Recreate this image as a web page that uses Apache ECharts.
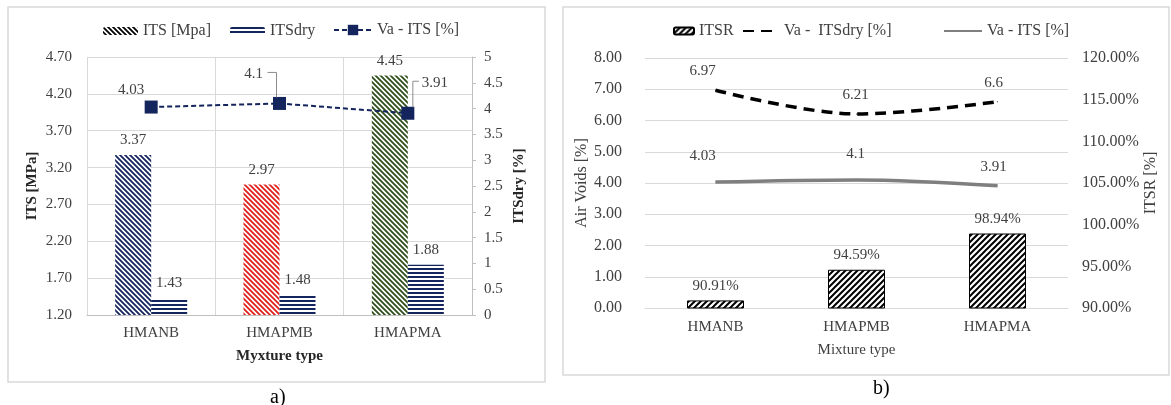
<!DOCTYPE html>
<html>
<head>
<meta charset="utf-8">
<script src="https://cdn.jsdelivr.net/npm/echarts@6/dist/echarts.min.js"></script>
<style>
html,body{margin:0;padding:0;background:#fff;}
#chart{width:1171px;height:405px;}
</style>
</head>
<body>
<div id="chart"></div>
<script>
// ---------- data ----------
const categories = ['HMANB', 'HMAPMB', 'HMAPMA'];
// panel a)
const itsValues = [3.37, 2.97, 4.45];        // ITS [MPa]
const itsDryValues = [1.43, 1.48, 1.88];     // ITSdry
const vaItsValuesA = [4.03, 4.1, 3.91];      // Va - ITS [%] (right axis)
// panel b)
const itsrValues = [90.91, 94.59, 98.94];    // ITSR [%]
const vaItsDryValues = [6.97, 6.21, 6.6];    // Va - ITSdry [%]
const vaItsValuesB = [4.03, 4.1, 3.91];      // Va - ITS [%]
// axis ranges
const itsAxis = {min: 1.2, max: 4.7, step: 0.5};
const itsDryAxis = {min: 0, max: 5, step: 0.5};
const airAxis = {min: 0, max: 8, step: 1};
const itsrAxis = {min: 90, max: 120, step: 5};

// ---------- styling helpers ----------
const FONT = '"Liberation Serif", "Times New Roman", serif';
const TXT = '#404040';
const NAVY = '#14245c';
const barColorsA = [NAVY, '#e0201c', '#2f4f1c'];

function hatch(color, dir, size, lw) {
  const c = document.createElement('canvas');
  c.width = size; c.height = size;
  const ctx = c.getContext('2d');
  ctx.fillStyle = '#ffffff';
  ctx.fillRect(0, 0, size, size);
  ctx.strokeStyle = color;
  ctx.lineWidth = lw;
  ctx.beginPath();
  for (const k of [-1, 0, 1]) {
    if (dir === 'back') {
      ctx.moveTo(-size, -size + k * size); ctx.lineTo(2 * size, 2 * size + k * size);
    } else {
      ctx.moveTo(-size, 2 * size + k * size); ctx.lineTo(2 * size, -size + k * size);
    }
  }
  ctx.stroke();
  return {image: c, repeat: 'repeat'};
}
function hstripes(color) {
  const c = document.createElement('canvas');
  c.width = 4; c.height = 4;
  const ctx = c.getContext('2d');
  ctx.fillStyle = '#ffffff'; ctx.fillRect(0, 0, 4, 4);
  ctx.fillStyle = color; ctx.fillRect(0, 0, 4, 2);
  return {image: c, repeat: 'repeat'};
}

const lbl = (extra) => Object.assign({show: true, color: TXT, fontSize: 15, fontFamily: FONT}, extra || {});
const axisLblFont = {color: TXT, fontFamily: FONT};
const legendText = {fontSize: 16, color: TXT, fontFamily: FONT};
const legendBase = (left, top, w, h, data, extra) => Object.assign(
  {left: left, top: top, padding: 0, itemWidth: w, itemHeight: h, data: data, textStyle: legendText}, extra || {});

const chart = echarts.init(document.getElementById('chart'), null, {renderer: 'canvas'});

const baseGraphic = [
  {type: 'rect', shape: {x: 8, y: 7, width: 537, height: 375}, style: {fill: 'none', stroke: '#d9d9d9', lineWidth: 1.5}, silent: true},
  {type: 'rect', shape: {x: 563, y: 7, width: 606, height: 368}, style: {fill: 'none', stroke: '#d9d9d9', lineWidth: 1.5}, silent: true},
  {type: 'text', left: 270, top: 388, style: {text: 'a)', font: '20px ' + FONT, fill: '#000'}},
  {type: 'text', left: 873, top: 379, style: {text: 'b)', font: '20px ' + FONT, fill: '#000'}}
];

const option = {
  backgroundColor: '#ffffff',
  animation: false,
  textStyle: {fontFamily: FONT},
  graphic: baseGraphic,
  legend: [
    legendBase(103, 23, 35, 8, ['ITS [Mpa]']),
    legendBase(230, 23, 35, 8, ['ITSdry']),
    legendBase(333, 22, 38, 13, ['Va - ITS [%]']),
    legendBase(673, 23, 20, 7, ['ITSR']),
    legendBase(742, 23, 36, 8, [{name: 'Va -  ITSdry [%]', itemStyle: {opacity: 0}}]),
    legendBase(943, 23, 38, 8, [{name: 'Va - ITS [%] (b)', itemStyle: {opacity: 0}}],
      {formatter: (n) => n.replace(' (b)', '')})
  ],
  grid: [
    {left: 87, top: 57, width: 385, height: 258, containLabel: false},
    {left: 645, top: 58, width: 423, height: 250, containLabel: false}
  ],
  xAxis: [
    {gridIndex: 0, type: 'category', data: categories,
     axisLine: {lineStyle: {color: '#bfbfbf', width: 1}},
     axisTick: {show: false},
     axisLabel: Object.assign({margin: 11, fontSize: 15}, axisLblFont),
     splitLine: {show: true, lineStyle: {color: '#d9d9d9', width: 1}},
     name: 'Myxture type', nameLocation: 'middle', nameGap: 34,
     nameTextStyle: {fontWeight: 'bold', fontSize: 15, color: '#262626', fontFamily: FONT}},
    {gridIndex: 1, type: 'category', data: categories,
     axisLine: {lineStyle: {color: '#d9d9d9', width: 1}},
     axisTick: {show: false},
     axisLabel: Object.assign({margin: 12, fontSize: 15}, axisLblFont),
     splitLine: {show: false},
     name: 'Mixture type', nameLocation: 'middle', nameGap: 35,
     nameTextStyle: {fontSize: 15, color: TXT, fontFamily: FONT}}
  ],
  yAxis: [
    // 0: ITS axis (data axis for bars), labels only every 0.5 from 1.20
    {gridIndex: 0, type: 'value', position: 'left', min: itsAxis.min, max: itsAxis.max, interval: 0.1,
     axisLine: {show: false}, axisTick: {show: false}, splitLine: {show: false},
     axisLabel: Object.assign({margin: 15, fontSize: 15, showMinLabel: true, showMaxLabel: true,
       formatter: (v) => (Math.round((v - itsAxis.min) * 10) % Math.round(itsAxis.step * 10) === 0) ? v.toFixed(2) : ''}, axisLblFont),
     name: 'ITS [MPa]', nameLocation: 'middle', nameGap: 47, nameRotate: 90,
     nameTextStyle: {fontWeight: 'bold', fontSize: 15, color: '#262626', fontFamily: FONT}},
    // 1: ITSdry [%] right axis
    {gridIndex: 0, type: 'value', position: 'right', min: itsDryAxis.min, max: itsDryAxis.max, interval: itsDryAxis.step,
     axisLine: {show: true, lineStyle: {color: '#bfbfbf'}},
     axisTick: {show: true, length: 4, lineStyle: {color: '#bfbfbf'}},
     splitLine: {show: false},
     axisLabel: Object.assign({margin: 12, fontSize: 15}, axisLblFont),
     name: 'ITSdry [%]', nameLocation: 'middle', nameGap: 40, nameRotate: 90,
     nameTextStyle: {fontWeight: 'bold', fontSize: 15, color: '#262626', fontFamily: FONT}},
    // 2: gridline helper for panel a) (one line per ITS label step)
    {gridIndex: 0, type: 'value', position: 'left', min: 0,
     max: Math.round((itsAxis.max - itsAxis.min) / itsAxis.step), interval: 1,
     axisLine: {show: false}, axisTick: {show: false}, axisLabel: {show: false},
     splitLine: {show: true, lineStyle: {color: '#d9d9d9', width: 1}}},
    // 3: Air voids axis panel b)
    {gridIndex: 1, type: 'value', position: 'left', min: airAxis.min, max: airAxis.max, interval: airAxis.step,
     axisLine: {show: false}, axisTick: {show: false},
     splitLine: {show: true, lineStyle: {color: '#d9d9d9', width: 1}},
     axisLabel: Object.assign({margin: 23, fontSize: 16, formatter: (v) => v.toFixed(2)}, axisLblFont),
     name: 'Air Voids [%]', nameLocation: 'middle', nameGap: 52, nameRotate: 90,
     nameTextStyle: {fontSize: 16, color: TXT, fontFamily: FONT}},
    // 4: ITSR axis panel b)
    {gridIndex: 1, type: 'value', position: 'right', min: itsrAxis.min, max: itsrAxis.max, interval: itsrAxis.step,
     axisLine: {show: false}, axisTick: {show: false}, splitLine: {show: false},
     axisLabel: Object.assign({margin: 14, fontSize: 16, formatter: (v) => v.toFixed(2) + '%'}, axisLblFont),
     name: 'ITSR [%]', nameLocation: 'middle', nameGap: 71, nameRotate: 90,
     nameTextStyle: {fontSize: 16, color: TXT, fontFamily: FONT}}
  ],
  series: [
    {name: 'ITS [Mpa]', type: 'bar', xAxisIndex: 0, yAxisIndex: 0, barWidth: 36, barGap: '0%', z: 2,
     itemStyle: {color: hatch('#000000', 'back', 5, 1.8)},
     label: lbl({position: 'top', distance: 7}),
     data: itsValues.map((v, i) => ({value: v, itemStyle: {color: hatch(barColorsA[i], 'back', 5, 1.8)}}))},
    {name: 'ITSdry', type: 'bar', xAxisIndex: 0, yAxisIndex: 0, barWidth: 36, barGap: '0%', z: 2,
     itemStyle: {color: hstripes(NAVY)},
     label: lbl({position: 'top', distance: 7}),
     data: itsDryValues},
    {name: 'Va - ITS [%]', type: 'line', xAxisIndex: 0, yAxisIndex: 1, z: 5,
     symbol: 'rect', symbolSize: 13,
     itemStyle: {color: NAVY},
     lineStyle: {color: NAVY, width: 2, type: [5, 3]},
     label: lbl({position: 'top', distance: 5}),
     labelLayout: (p) => ({dx: [-20, -26, 27][p.dataIndex], dy: [2, -10, -11][p.dataIndex]}),
     data: vaItsValuesA},
    {name: 'ITSR', type: 'bar', xAxisIndex: 1, yAxisIndex: 4, barWidth: 57, z: 2,
     itemStyle: {color: hatch('#000000', 'fwd', 6, 2), borderColor: '#000000', borderWidth: 1},
     label: lbl({position: 'top', distance: 7, formatter: (p) => p.value.toFixed(2) + '%'}),
     data: itsrValues},
    {name: 'Va -  ITSdry [%]', type: 'line', xAxisIndex: 1, yAxisIndex: 3, z: 5,
     smooth: 0.35, symbol: 'circle', symbolSize: 1,
     itemStyle: {color: '#000000'},
     lineStyle: {color: '#000000', width: 3.5, type: [11, 7]},
     label: lbl({position: 'top', distance: 11}),
     labelLayout: (p) => ({dx: [-13, -1, -4][p.dataIndex], dy: 0}),
     data: vaItsDryValues},
    {name: 'Va - ITS [%] (b)', type: 'line', xAxisIndex: 1, yAxisIndex: 3, z: 5,
     smooth: 0.35, symbol: 'circle', symbolSize: 1,
     itemStyle: {color: '#7f7f7f'},
     lineStyle: {color: '#7f7f7f', width: 3.5},
     label: lbl({position: 'top', distance: 11}),
     labelLayout: (p) => ({dx: [-13, -1, -4][p.dataIndex], dy: [-7, -7, 0][p.dataIndex]}),
     data: vaItsValuesB}
  ]
};
chart.setOption(option);

// leader lines for the moved labels of points 2 and 3 (positions from the library's scales)
const leaderSpec = [
  {i: 1, pts: [[-12, -31], [-3, -31], [-3, -6]]},
  {i: 2, pts: [[11, -32], [5, -32], [5, -6]]}
];
const leaders = leaderSpec.map((s) => {
  const p = chart.convertToPixel({xAxisIndex: 0, yAxisIndex: 1}, [categories[s.i], vaItsValuesA[s.i]]);
  return {type: 'polyline', silent: true, z: 10,
          shape: {points: s.pts.map((d) => [p[0] + d[0], p[1] + d[1]])},
          style: {stroke: '#8c8c8c', lineWidth: 1, fill: null}};
});
chart.setOption({graphic: baseGraphic.concat(leaders)});
</script>
</body>
</html>
